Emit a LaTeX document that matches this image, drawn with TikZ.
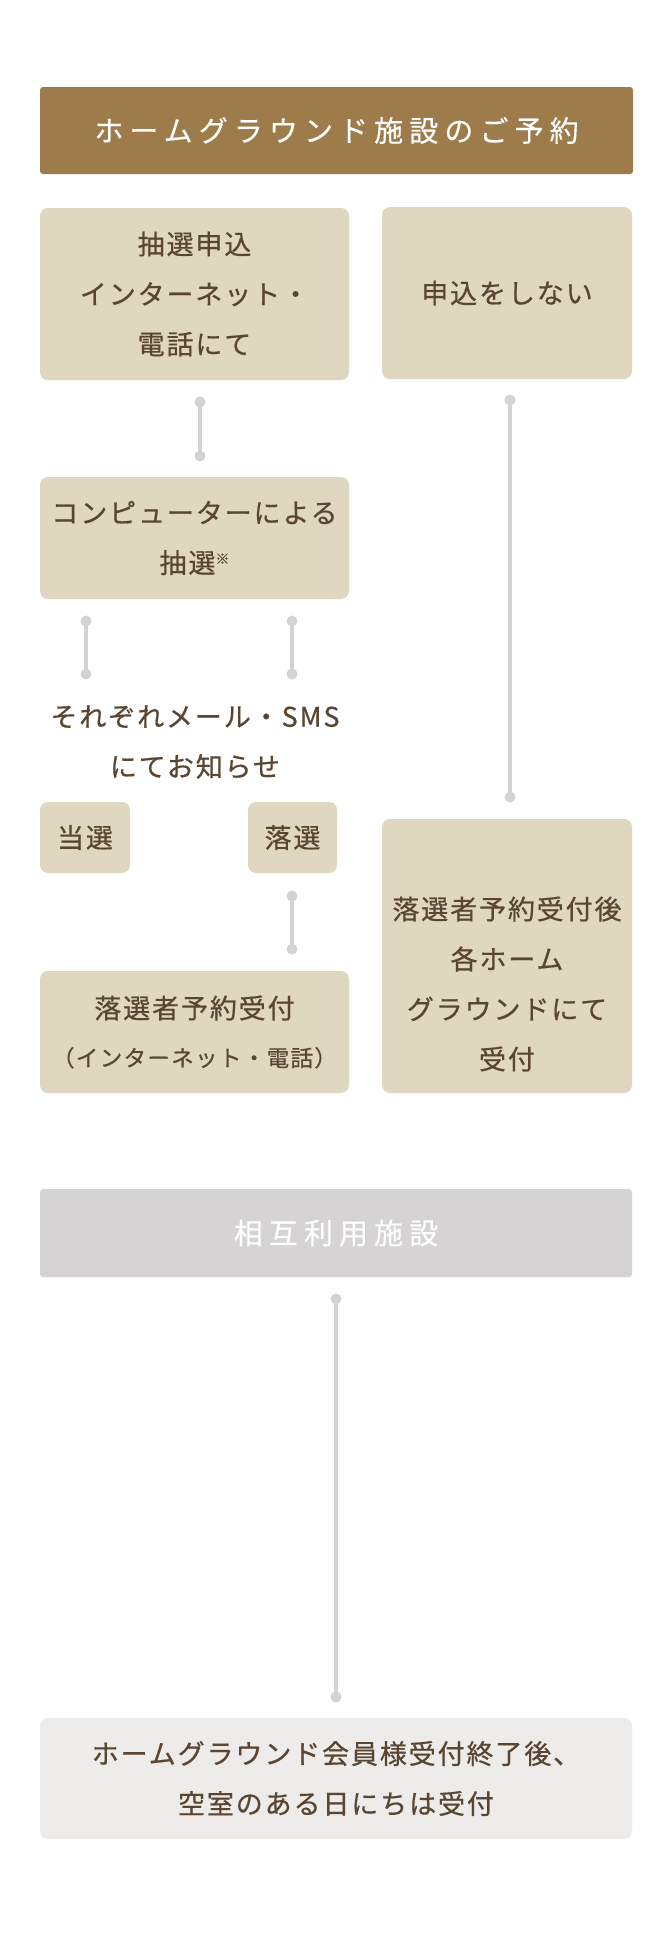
\documentclass[tikz,border=0pt]{standalone}
\usepackage{fontspec}
\setmainfont{Noto Sans CJK JP}
\newfontfamily\jpbody[LetterSpace=7,FakeBold=0.6]{Noto Sans CJK JP}
\newfontfamily\jphead[LetterSpace=21,FakeBold=0.3]{Noto Sans CJK JP}
\definecolor{hdrbrown}{HTML}{9E7B4A}
\definecolor{boxfill}{HTML}{DFD7BF}
\definecolor{linegray}{HTML}{D4D3D4}
\definecolor{txtbrown}{HTML}{5A4630}
\definecolor{hdrgray}{HTML}{D5D3D4}
\definecolor{paleggray}{HTML}{EDECEA}
\tikzset{
  box/.style={fill=boxfill, rounded corners=8pt, inner sep=0pt, text=txtbrown, align=center,
    font=\jpbody\fontsize{27}{50}\selectfont},
  txt/.style={inner sep=0pt, text=txtbrown, align=center, font=\jpbody\fontsize{27}{50}\selectfont},
  hdr/.style={rounded corners=3pt, inner sep=0pt, text=white, align=center,
    font=\jphead\fontsize{29}{30}\selectfont},
  conn/.style={draw=linegray, line width=3.5pt, line cap=round},
  dot/.style={fill=linegray}
}
\begin{document}
\begin{tikzpicture}[x=1pt,y=-1pt]
\useasboundingbox (0,0) rectangle (670,1936);
\fill[white] (0,0) rectangle (670,1936);

% headers
\node[hdr, fill=hdrbrown, minimum width=593pt, minimum height=87pt] (h1) at (336.5,130.5) {ホームグラウンド施設のご予約};
\node[hdr, fill=hdrgray, minimum width=592pt, minimum height=88pt] (h2) at (336,1233) {相互利用施設};

% boxes
\node[box, minimum width=309pt, minimum height=172pt] (b1) at (194.5,294) {抽選申込\\インターネット・\\電話にて};
\node[box, minimum width=250pt, minimum height=172pt] (b2) at (507,293) {申込をしない};
\node[box, minimum width=309pt, minimum height=122pt] (b3) at (194.5,538) {コンピューターによる\\抽選{\fontsize{14}{14}\selectfont\raisebox{9pt}{※}}};
\node[txt] (note) at (195,742) {それぞれメール・SMS\\にてお知らせ};
\node[box, minimum width=90pt, minimum height=71pt] (win) at (85,837.5) {当選};
\node[box, minimum width=89pt, minimum height=71pt] (lose) at (292.5,837.5) {落選};
\node[box, minimum width=250pt, minimum height=274pt] (b4) at (507,956) {};
\node[txt] (b4t) at (507,984) {落選者予約受付後\\各ホーム\\グラウンドにて\\受付};
\node[box, minimum width=309pt, minimum height=122pt] (b5) at (194.5,1032) {落選者予約受付\\[-2pt]{\fontsize{22.5}{22.5}\selectfont\addfontfeatures{LetterSpace=6}（インターネット・電話）}};
\node[box, fill=paleggray, minimum width=592pt, minimum height=121pt] (b6) at (336,1778.5) {ホームグラウンド会員様受付終了後、\\空室のある日にちは受付};

% connector end points
\coordinate (c1a) at (200,402);  \coordinate (c1b) at (200,456);
\coordinate (c2a) at (86,621);   \coordinate (c2b) at (86,674);
\coordinate (c3a) at (292,621);  \coordinate (c3b) at (292,674);
\coordinate (c4a) at (292,896);  \coordinate (c4b) at (292,949);
\coordinate (c5a) at (510,400);  \coordinate (c5b) at (510,797);
\coordinate (c6a) at (336,1299); \coordinate (c6b) at (336,1697);

\foreach \c in {1,...,6}{
  \draw[conn] (c\c a) -- (c\c b);
  \fill[dot] (c\c a) circle[radius=5.5pt];
  \fill[dot] (c\c b) circle[radius=5.5pt];
}
\end{tikzpicture}
\end{document}
